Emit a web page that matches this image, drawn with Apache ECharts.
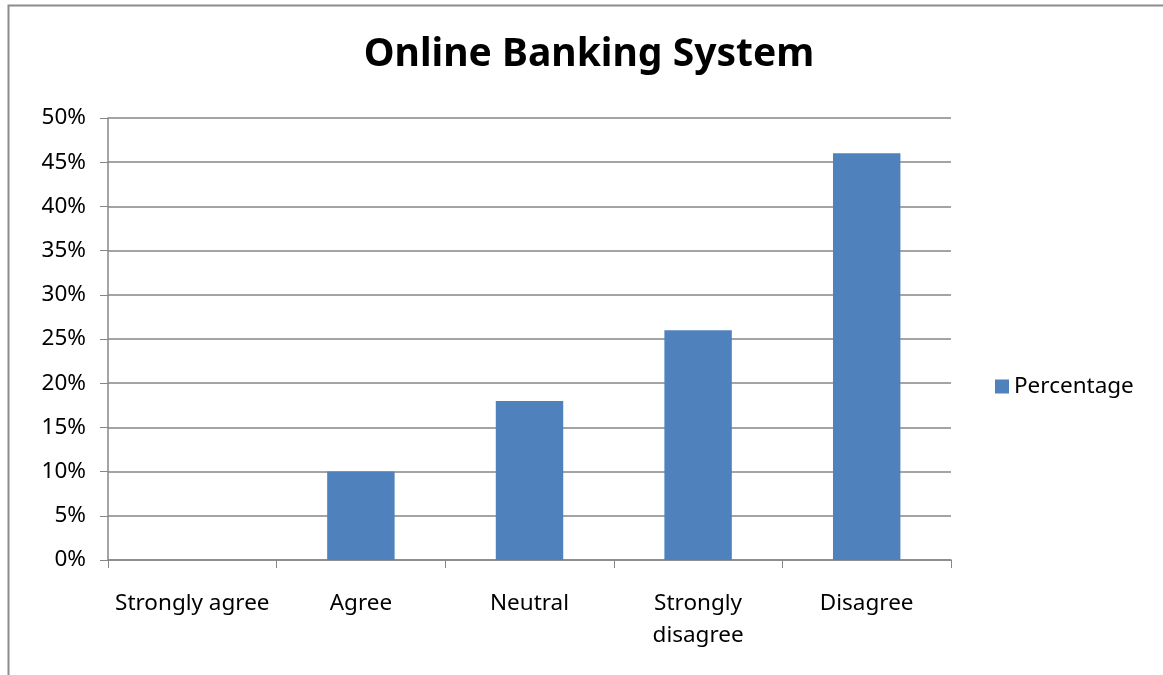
<!DOCTYPE html>
<html>
<head>
<meta charset="utf-8">
<script src="https://cdn.jsdelivr.net/npm/echarts@6/dist/echarts.min.js"></script>
<style>html,body{margin:0;padding:0;background:#fff;}#c{width:1163px;height:675px;}</style>
</head>
<body>
<div id="c"></div>
<script>
const categories = ['Strongly agree', 'Agree', 'Neutral', 'Strongly disagree', 'Disagree'];
const percentage = [0, 10, 18, 26, 46];
const seriesName = 'Percentage';
const titleText = 'Online Banking System';

const chart = echarts.init(document.getElementById('c'));
const font = '"Noto Sans", "Open Sans", sans-serif';
chart.setOption({
  animation: false,
  backgroundColor: '#ffffff',
  title: {
    text: titleText,
    left: 584, top: 30, textAlign: 'center',
    textStyle: { fontFamily: font, fontSize: 39, fontWeight: 'bold', color: '#000' }
  },
  graphic: [{
    type: 'rect', shape: { x: 8.5, y: 5.5, width: 1200, height: 700 },
    style: { fill: 'none', stroke: '#8c8c8c', lineWidth: 2 }, silent: true
  }],
  legend: {
    left: 990, top: 370, itemWidth: 14, itemHeight: 14, itemGap: 6,
    icon: 'rect',
    textStyle: { fontFamily: font, fontSize: 22.5, color: '#000', padding: [0, 0, 0, 0] },
    data: [seriesName]
  },
  grid: { left: 108, right: 212, top: 118, bottom: 115 },
  xAxis: {
    type: 'category', data: categories,
    axisLine: { lineStyle: { color: '#868686', width: 1.5 } },
    axisTick: { show: true, length: 8, lineStyle: { color: '#868686' } },
    axisLabel: {
      margin: 28, fontFamily: font, fontSize: 22.5, color: '#000', lineHeight: 32, interval: 0,
      formatter: v => v === 'Strongly disagree' ? 'Strongly\ndisagree' : v
    }
  },
  yAxis: {
    type: 'value', min: 0, max: 50, interval: 5,
    axisLine: { show: true, lineStyle: { color: '#868686', width: 1.5 } },
    axisTick: { show: true, length: 8, lineStyle: { color: '#868686' } },
    splitLine: { lineStyle: { color: '#868686', width: 1.5 } },
    axisLabel: { margin: 22, fontFamily: font, fontSize: 22.5, color: '#000', formatter: '{value}%' }
  },
  series: [{
    name: seriesName, type: 'bar', data: percentage, barWidth: '40%',
    itemStyle: { color: '#4F81BD' }
  }]
});
</script>
</body>
</html>
